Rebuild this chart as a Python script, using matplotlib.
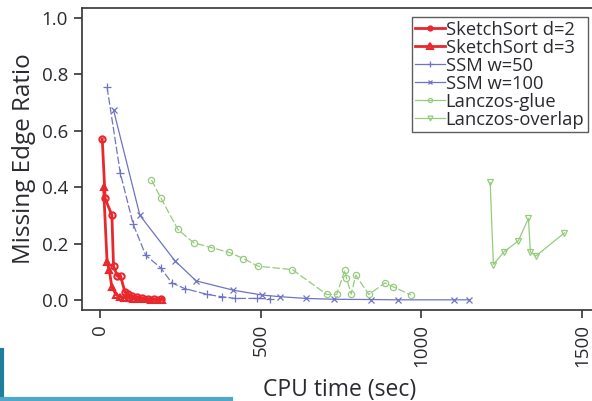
import numpy as np
import matplotlib.pyplot as plt
from matplotlib.lines import Line2D

# ====================
# Data
# ====================
ss2_x = [8, 17, 38, 43, 55, 65, 78, 88, 100, 115, 130, 150, 170, 190]
ss2_y = [0.57, 0.36, 0.30, 0.12, 0.085, 0.085, 0.03, 0.02, 0.015, 0.01, 0.008, 0.005, 0.004, 0.003]

ss3_x = [12, 23, 30, 38, 52, 62, 75, 90, 105, 120, 140, 160, 180, 195]
ss3_y = [0.40, 0.135, 0.105, 0.045, 0.018, 0.012, 0.008, 0.006, 0.005, 0.004, 0.003, 0.002, 0.002, 0.002]

ssm50_x = [23, 64, 104, 143, 190, 224, 264, 335, 379, 421, 489, 531]
ssm50_y = [0.753, 0.45, 0.269, 0.159, 0.114, 0.061, 0.041, 0.020, 0.012, 0.006, 0.006, 0.004]

ssm100_x = [43, 125, 234, 300, 416, 505, 562, 641, 730, 845, 929, 1100, 1149]
ssm100_y = [0.673, 0.30, 0.139, 0.068, 0.035, 0.018, 0.012, 0.006, 0.003, 0.002, 0.001, 0.001, 0.001]

glue_x = [161, 190, 243, 292, 347, 402, 447, 492, 599, 706, 737, 762, 767, 782, 796, 837, 887, 913, 968]
glue_y = [0.425, 0.362, 0.25, 0.203, 0.186, 0.169, 0.147, 0.12, 0.108, 0.02, 0.02, 0.106, 0.08,
          0.021, 0.088, 0.02, 0.061, 0.047, 0.018]

overlap_x = [1214, 1224, 1257, 1301, 1333, 1339, 1356, 1445]
overlap_y = [0.417, 0.126, 0.171, 0.209, 0.289, 0.171, 0.156, 0.238]

x_ticks = [0, 500, 1000, 1500]
y_ticks = [0.0, 0.2, 0.4, 0.6, 0.8, 1.0]

red = '#e8282c'
blue = '#6f73c4'
green = '#95cc7c'
txt = '#2a2a30'

plt.rcParams['font.family'] = ['Open Sans', 'DejaVu Sans']

fig = plt.figure(figsize=(5.92, 4.01), dpi=100)
ax = fig.add_axes([82 / 592, 1 - 310 / 401, 1 - 82 / 592 + 0.01, (310 - 8) / 401])

ax.plot(ss2_x, ss2_y, color=red, lw=2, marker='o', ms=4.5, mfc='none', mew=1.5, label='SketchSort d=2')
ax.plot(ss3_x, ss3_y, color=red, lw=2, marker='^', ms=5, mfc='none', mew=1.5, label='SketchSort d=3')
ax.plot(ssm50_x, ssm50_y, color=blue, lw=0.9, ls=(0, (6, 2)), marker='+', ms=6, mew=0.9, label='SSM w=50')
ax.plot(ssm100_x, ssm100_y, color=blue, lw=0.9, marker='x', ms=4, mew=0.9, label='SSM w=100')
ax.plot(glue_x, glue_y, color=green, lw=0.9, ls=(0, (6, 2)), marker='o', ms=4.5, mfc='none', mew=0.9,
        label='Lanczos-glue')
ax.plot(overlap_x, overlap_y, color=green, lw=0.9, marker='v', ms=5, mfc='none', mew=0.9,
        label='Lanczos-overlap')

ax.set_xlim(-55, 1549)
ax.set_ylim(-0.035, 1.034)
ax.set_xticks(x_ticks)
ax.set_xticklabels([str(v) for v in x_ticks], rotation=90)
ax.set_yticks(y_ticks)
ax.set_yticklabels([f'{v:.1f}' for v in y_ticks])
ax.tick_params(axis='both', labelsize=13.5, colors='#333333', labelcolor=txt, length=6, width=1.2, pad=4)
for s in ax.spines.values():
    s.set_color('#333333')
    s.set_linewidth(1.2)

ax.set_xlabel('CPU time (sec)', fontsize=16.5, color=txt, labelpad=8)
ax.set_ylabel('Missing Edge Ratio', fontsize=17.5, color=txt, labelpad=4)

handles = [
    Line2D([], [], color=red, lw=2, marker='o', ms=3, mfc='none', mew=1.5),
    Line2D([], [], color=red, lw=2, marker='^', ms=4, mfc='none', mew=1.5),
    Line2D([], [], color=blue, lw=0.9, marker='+', ms=5, mew=0.9),
    Line2D([], [], color=blue, lw=0.9, marker='x', ms=3, mew=0.9),
    Line2D([], [], color=green, lw=0.9, marker='o', ms=3, mfc='none', mew=0.9),
    Line2D([], [], color=green, lw=0.9, marker='v', ms=3.5, mfc='none', mew=0.9),
]
labels = ['SketchSort d=2', 'SketchSort d=3', 'SSM w=50', 'SSM w=100', 'Lanczos-glue', 'Lanczos-overlap']
leg = ax.legend(handles, labels, loc='upper left', bbox_to_anchor=((408 - 82) / 510, 1 - 9 / 302),
                fontsize=13.2, frameon=True, fancybox=False, edgecolor='#333333',
                handlelength=1.6, handletextpad=0.05, labelspacing=0.0, borderpad=0.2,
                borderaxespad=0)
leg.get_frame().set_linewidth(1.0)
for t in leg.get_texts():
    t.set_color(txt)

# slide decoration in the lower-left corner
fig.add_artist(Line2D([0.003, 0.003], [0, 1 - 350 / 401], color='#1f7f9a', lw=3,
                      transform=fig.transFigure))
fig.add_artist(Line2D([0, 0.39], [0.004, 0.004], color='#4fa8c8', lw=3, transform=fig.transFigure))

fig.savefig('out.png', dpi=100)
